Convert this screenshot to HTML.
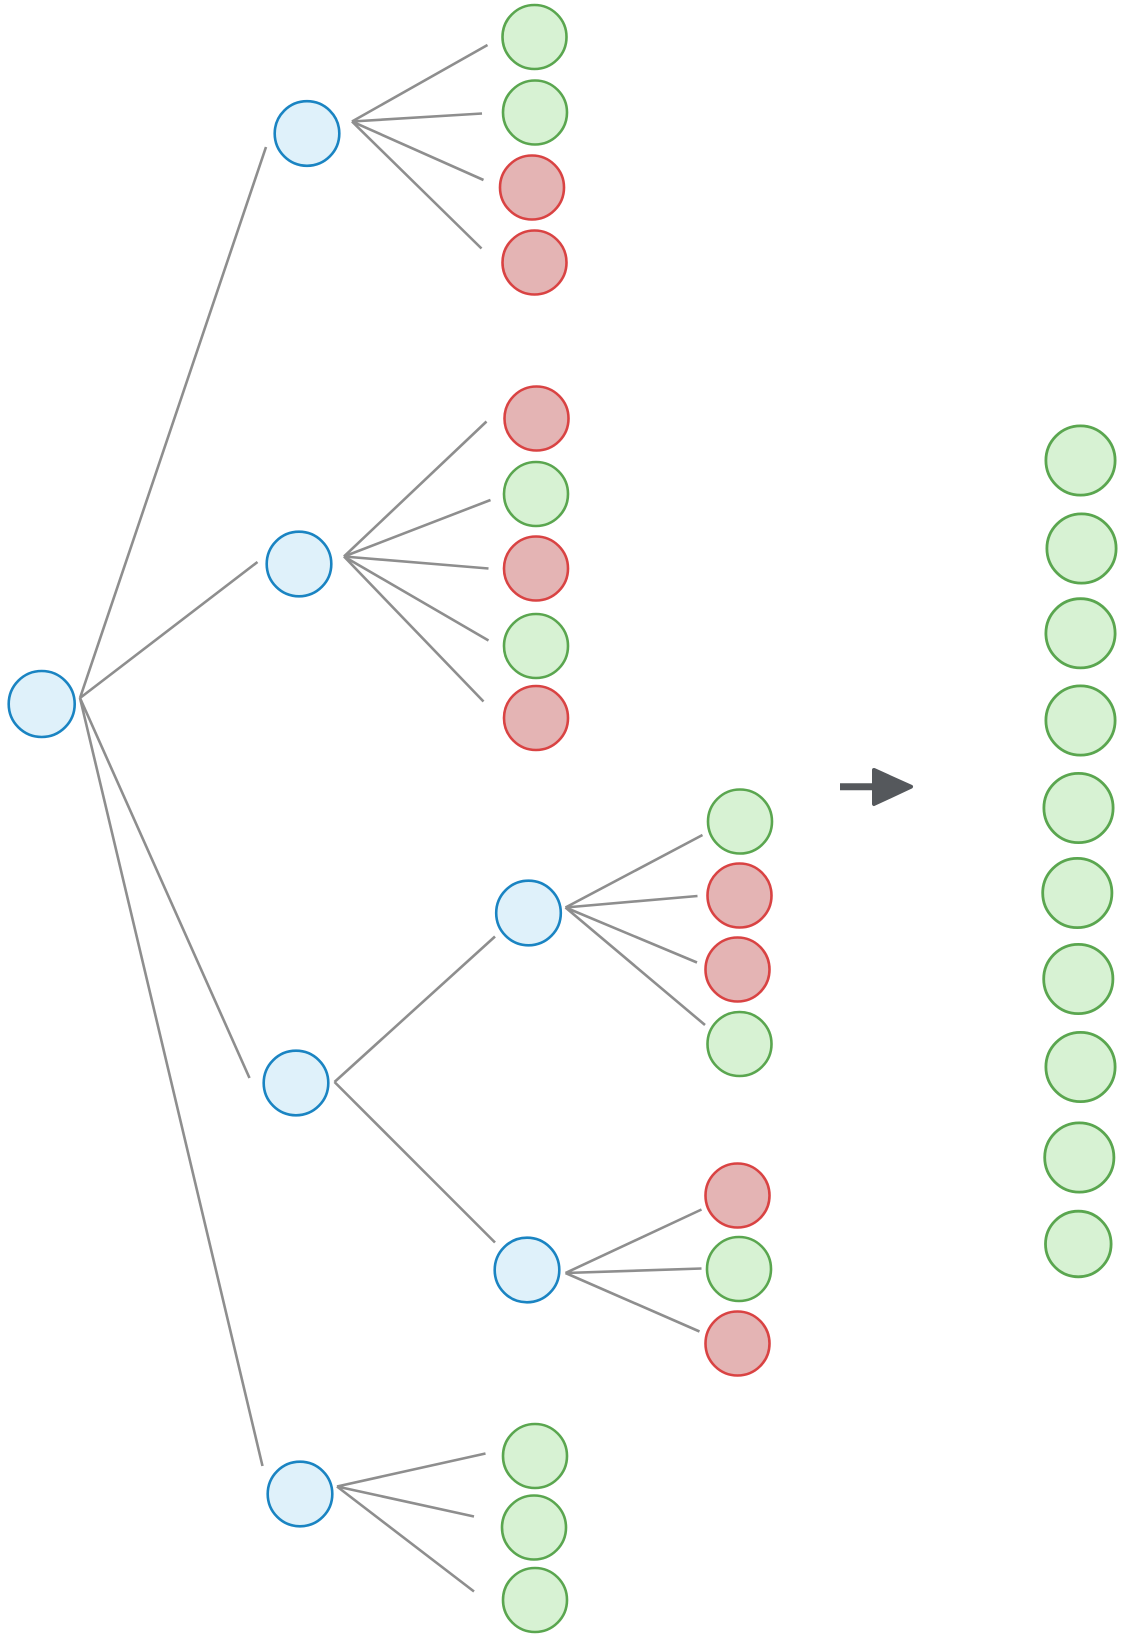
<!DOCTYPE html>
<html>
<head>
<meta charset="utf-8">
<style>
  html, body { margin: 0; padding: 0; background: #ffffff; }
  svg { display: block; }
</style>
</head>
<body>
<svg width="1121" height="1637" viewBox="0 0 1121 1637" xmlns="http://www.w3.org/2000/svg">
  <g stroke="#8e8e8e" stroke-width="2.6" stroke-linecap="butt" fill="none">
    <!-- root edges -->
    <line x1="80" y1="698" x2="266" y2="147"/>
    <line x1="80" y1="698" x2="257.5" y2="562"/>
    <line x1="80" y1="698" x2="249.5" y2="1078"/>
    <line x1="80" y1="698" x2="262.5" y2="1466"/>
    <!-- A children -->
    <line x1="352" y1="121.5" x2="487.5" y2="45"/>
    <line x1="352" y1="121.5" x2="482" y2="113.5"/>
    <line x1="352" y1="121.5" x2="483.5" y2="180"/>
    <line x1="352" y1="121.5" x2="481.5" y2="248.5"/>
    <!-- B children -->
    <line x1="344" y1="556.5" x2="486.5" y2="421.5"/>
    <line x1="344" y1="556.5" x2="490.5" y2="500"/>
    <line x1="344" y1="556.5" x2="488.5" y2="568.5"/>
    <line x1="344" y1="556.5" x2="488.5" y2="640.5"/>
    <line x1="344" y1="556.5" x2="483.5" y2="701.5"/>
    <!-- C children -->
    <line x1="334.5" y1="1082" x2="495" y2="936.5"/>
    <line x1="334.5" y1="1082" x2="495" y2="1242.5"/>
    <!-- C1 children -->
    <line x1="565.5" y1="907.5" x2="702.5" y2="835"/>
    <line x1="565.5" y1="907.5" x2="697.5" y2="896"/>
    <line x1="565.5" y1="907.5" x2="697" y2="962.5"/>
    <line x1="565.5" y1="907.5" x2="705" y2="1025"/>
    <!-- C2 children -->
    <line x1="565.5" y1="1273" x2="701.5" y2="1209.5"/>
    <line x1="565.5" y1="1273" x2="701.5" y2="1268.5"/>
    <line x1="565.5" y1="1273" x2="699.5" y2="1331.5"/>
    <!-- D children -->
    <line x1="337" y1="1486.5" x2="485.5" y2="1453.5"/>
    <line x1="337" y1="1486.5" x2="474" y2="1516.5"/>
    <line x1="337" y1="1486.5" x2="474" y2="1591.5"/>
  </g>

  <!-- blue internal nodes -->
  <g fill="#dff1fa" stroke="#1a84c2" stroke-width="2.6">
    <circle cx="41.7" cy="704" r="33"/>
    <circle cx="307" cy="133.5" r="32.3"/>
    <circle cx="299" cy="564" r="32.3"/>
    <circle cx="296" cy="1083" r="32.3"/>
    <circle cx="528.5" cy="913" r="32.3"/>
    <circle cx="527" cy="1270" r="32.3"/>
    <circle cx="300" cy="1494" r="32.3"/>
  </g>

  <!-- green leaves -->
  <g fill="#d7f2d3" stroke="#5aa64f" stroke-width="2.6">
    <circle cx="534.5" cy="37" r="32"/>
    <circle cx="535" cy="112.5" r="32"/>
    <circle cx="536" cy="494" r="32"/>
    <circle cx="536" cy="646" r="32"/>
    <circle cx="740" cy="821.5" r="32"/>
    <circle cx="739.5" cy="1044" r="32"/>
    <circle cx="739" cy="1269" r="32"/>
    <circle cx="535" cy="1456" r="32"/>
    <circle cx="534" cy="1527.5" r="32"/>
    <circle cx="535" cy="1600" r="32"/>
  </g>

  <!-- red leaves -->
  <g fill="#e4b4b4" stroke="#d94343" stroke-width="2.6">
    <circle cx="532" cy="187.5" r="32"/>
    <circle cx="534.5" cy="262.5" r="32"/>
    <circle cx="536.5" cy="418.5" r="32"/>
    <circle cx="536" cy="568.5" r="32"/>
    <circle cx="536" cy="718" r="32"/>
    <circle cx="739.5" cy="895.5" r="32"/>
    <circle cx="737.5" cy="969.5" r="32"/>
    <circle cx="737.5" cy="1195.5" r="32"/>
    <circle cx="737.5" cy="1343.5" r="32"/>
  </g>

  <!-- arrow -->
  <g fill="#55585c" stroke="#55585c">
    <line x1="840" y1="786.7" x2="880" y2="786.7" stroke-width="7"/>
    <polygon points="874,770 911,786.7 874,804" stroke-width="4" stroke-linejoin="round"/>
  </g>

  <!-- right column of green -->
  <g fill="#d7f2d3" stroke="#5aa64f" stroke-width="2.8">
    <circle cx="1080.5" cy="460.5" r="34.6"/>
    <circle cx="1081.5" cy="548.5" r="34.6"/>
    <circle cx="1080.5" cy="633.3" r="34.6"/>
    <circle cx="1080.5" cy="720.5" r="34.6"/>
    <circle cx="1078.5" cy="808" r="34.6"/>
    <circle cx="1077.3" cy="893" r="34.6"/>
    <circle cx="1078.3" cy="979" r="34.6"/>
    <circle cx="1080.5" cy="1067" r="34.6"/>
    <circle cx="1079.3" cy="1157.5" r="34.6"/>
    <circle cx="1078.3" cy="1244" r="32.8"/>
  </g>
</svg>
</body>
</html>
